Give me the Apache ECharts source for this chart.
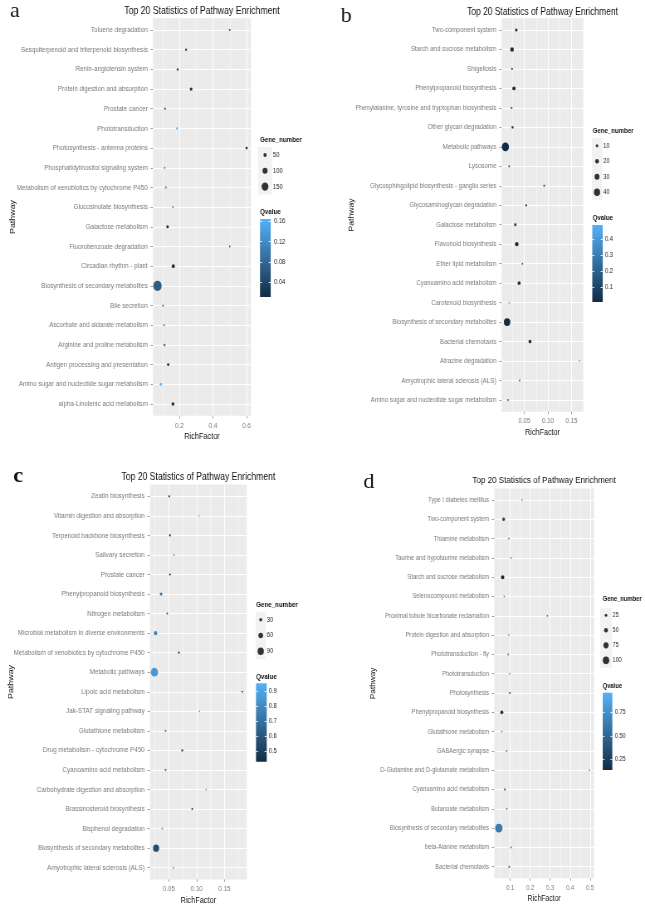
<!DOCTYPE html>
<html><head><meta charset="utf-8">
<script src="https://cdn.jsdelivr.net/npm/echarts@6.0.0/dist/echarts.min.js"></script>
<style>
html,body{margin:0;padding:0;background:#fff;overflow:hidden;width:645px;height:907px;}
#chart{width:777px;height:907px;transform:scaleX(0.8301158);transform-origin:0 0;}
</style></head><body><div id="chart"></div>
<script>
// ---------- Panel a ----------
const pathwaysA = ["Toluene degradation","Sesquiterpenoid and triterpenoid biosynthesis","Renin-angiotensin system","Protein digestion and absorption","Prostate cancer","Phototransduction","Photosynthesis - antenna proteins","Phosphatidylinositol signaling system","Metabolism of xenobiotics by cytochrome P450","Glucosinolate biosynthesis","Galactose metabolism","Fluorobenzoate degradation","Circadian rhythm - plant","Biosynthesis of secondary metabolites","Bile secretion","Ascorbate and aldarate metabolism","Arginine and proline metabolism","Antigen processing and presentation","Amino sugar and nucleotide sugar metabolism","alpha-Linolenic acid metabolism"];
const richA  = [0.50,0.24,0.19,0.27,0.115,0.186,0.60,0.112,0.12,0.162,0.13,0.50,0.164,0.07,0.103,0.109,0.112,0.134,0.09,0.162];
const genesA = [8,15,15,35,18,10,22,14,16,10,30,5,45,190,15,14,20,28,22,40];
const qvalA  = [0.05,0.04,0.04,0.01,0.12,0.16,0.02,0.14,0.15,0.15,0.02,0.08,0.01,0.068,0.14,0.15,0.10,0.02,0.165,0.01];
const xTicksA = [0.2,0.4,0.6];
const xMinorA = [0.1,0.3,0.5];
const sizeBreaksA = [50,100,150];
const qBreaksA = [0.04,0.08,0.12,0.16];

// ---------- Panel b ----------
const pathwaysB = ["Two-component system","Starch and sucrose metabolism","Shigellosis","Phenylpropanoid biosynthesis","Phenylalanine, tyrosine and tryptophan biosynthesis","Other glycan degradation","Metabolic pathways","Lysosome","Glycosphingolipid biosynthesis - ganglio series","Glycosaminoglycan degradation","Galactose metabolism","Flavonoid biosynthesis","Ether lipid metabolism","Cyanoamino acid metabolism","Carotenoid biosynthesis","Biosynthesis of secondary metabolites","Bacterial chemotaxis","Atrazine degradation","Amyotrophic lateral sclerosis (ALS)","Amino sugar and nucleotide sugar metabolism"];
const richB  = [0.033,0.024,0.024,0.028,0.023,0.025,0.010,0.018,0.092,0.054,0.031,0.034,0.046,0.039,0.018,0.0135,0.062,0.167,0.040,0.0156];
const genesB = [11,19,5,16,5,7,48,5,4,5,9,18,3,14,3,42,14,1,4,5];
const qvalB  = [0.05,0.01,0.15,0.02,0.2,0.1,0.01,0.25,0.08,0.06,0.05,0.02,0.2,0.04,0.49,0.012,0.03,0.35,0.3,0.3];
const xTicksB = [0.05,0.10,0.15];
const xMinorB = [0.025,0.075,0.125];
const sizeBreaksB = [10,20,30,40];
const qBreaksB = [0.1,0.2,0.3,0.4];

// ---------- Panel c ----------
const pathwaysC = ["Zeatin biosynthesis","Vitamin digestion and absorption","Terpenoid backbone biosynthesis","Salivary secretion","Prostate cancer","Phenylpropanoid biosynthesis","Nitrogen metabolism","Microbial metabolism in diverse environments","Metabolism of xenobiotics by cytochrome P450","Metabolic pathways","Lipoic acid metabolism","Jak-STAT signaling pathway","Glutathione metabolism","Drug metabolism - cytochrome P450","Cyanoamino acid metabolism","Carbohydrate digestion and absorption","Brassinosteroid biosynthesis","Bisphenol degradation","Biosynthesis of secondary metabolites","Amyotrophic lateral sclerosis (ALS)"];
const richC  = [0.0506,0.104,0.052,0.059,0.052,0.036,0.047,0.026,0.068,0.024,0.182,0.105,0.044,0.074,0.044,0.117,0.092,0.038,0.027,0.058];
const genesC = [8,4,8,5,8,22,7,40,8,110,4,4,10,8,10,4,5,6,88,6];
const qvalC  = [0.45,0.95,0.46,0.9,0.47,0.7,0.6,0.79,0.5,0.85,0.5,0.9,0.75,0.43,0.75,0.92,0.46,0.85,0.56,0.9];
const xTicksC = [0.05,0.10,0.15];
const xMinorC = [0.025,0.075,0.125,0.175];
const sizeBreaksC = [30,60,90];
const qBreaksC = [0.5,0.6,0.7,0.8,0.9];

// ---------- Panel d ----------
const pathwaysD = ["Type I diabetes mellitus","Two-component system","Thiamine metabolism","Taurine and hypotaurine metabolism","Starch and sucrose metabolism","Selenocompound metabolism","Proximal tubule bicarbonate reclamation","Protein digestion and absorption","Phototransduction - fly","Phototransduction","Photosynthesis","Phenylpropanoid biosynthesis","Glutathione metabolism","GABAergic synapse","D-Glutamine and D-glutamate metabolism","Cyanoamino acid metabolism","Butanoate metabolism","Biosynthesis of secondary metabolites","beta-Alanine metabolism","Bacterial chemotaxis"];
const richD  = [0.159,0.067,0.093,0.104,0.062,0.070,0.286,0.093,0.090,0.097,0.098,0.058,0.058,0.082,0.497,0.073,0.083,0.043,0.104,0.095];
const genesD = [3,30,6,4,40,4,3,5,6,5,8,35,8,5,2,10,6,120,6,8];
const qvalD  = [0.7,0.3,0.6,0.8,0.135,0.8,0.5,0.85,0.6,0.9,0.4,0.2,0.964,0.6,0.5,0.35,0.6,0.63,0.6,0.4];
const xTicksD = [0.1,0.2,0.3,0.4,0.5];
const xMinorD = [0.05,0.15,0.25,0.35,0.45];
const sizeBreaksD = [25,50,75,100];
const qBreaksD = [0.25,0.50,0.75];

const TITLE = 'Top 20 Statistics of Pathway Enrichment';

// ---------- layout (real pixel positions in the 645 px wide picture) ----------
const S = 645/777;
const X = r => r / S;
const FONT = '"Liberation Sans", Arial, sans-serif';
const SERIF = '"Liberation Serif", "Times New Roman", serif';

const panels = [
 {names:pathwaysA, rich:richA, genes:genesA, q:qvalA, ticks:xTicksA, minor:xMinorA, tickDec:1, sizeBreaks:sizeBreaksA, qBreaks:qBreaksA, qDec:2,
  sp:[1.7,0.044], gx:153, gw:98, gt:18.2, gh:397.6, titleY:11, ts:10.5, fs:1.0, letter:'a', lb:false, lx:10, ly:11.7, yNameGap:164.2,
  legX:260, legTitleY:140, keyY0:155, keyStep:15.8, dotX:265, labX:273, qTitleY:212.3, barX:260, barW:10.7, barT:219, barB:297, barLabX:274},
 {names:pathwaysB, rich:richB, genes:genesB, q:qvalB, ticks:xTicksB, minor:xMinorB, tickDec:2, sizeBreaks:sizeBreaksB, qBreaks:qBreaksB, qDec:1,
  sp:[1.5,0.15], gx:501.7, gw:81.6, gt:18.3, gh:393.4, titleY:11.7, ts:10.2, fs:0.975, letter:'b', lb:false, lx:340.7, ly:16.7, yNameGap:176.3,
  legX:592.7, legTitleY:131.3, keyY0:145.7, keyStep:15.53, dotX:597, labX:603.3, qTitleY:218.3, barX:592.3, barW:10.4, barT:225, barB:302, barLabX:605},
 {names:pathwaysC, rich:richC, genes:genesC, q:qvalC, ticks:xTicksC, minor:xMinorC, tickDec:2, sizeBreaks:sizeBreaksC, qBreaks:qBreaksC, qDec:1,
  sp:[1.6,0.065], gx:150, gw:96.7, gt:484.6, gh:394.8, titleY:476.7, ts:10.4, fs:1.0, letter:'c', lb:true, lx:13.3, ly:476.1, yNameGap:162.2,
  legX:256, legTitleY:605.3, keyY0:619.7, keyStep:15.8, dotX:260.7, labX:266.7, qTitleY:676.7, barX:256, barW:10.7, barT:683.3, barB:761.7, barLabX:268.7},
 {names:pathwaysD, rich:richD, genes:genesD, q:qvalD, ticks:xTicksD, minor:xMinorD, tickDec:1, sizeBreaks:sizeBreaksD, qBreaks:qBreaksD, qDec:2,
  sp:[1.5,0.062], gx:494.3, gw:99.7, gt:488.4, gh:389.9, titleY:480.7, ts:9.7, fs:0.93, letter:'d', lb:false, lx:363.3, ly:482.7, yNameGap:141.7,
  legX:602.7, legTitleY:598.7, keyY0:615.3, keyStep:15, dotX:606, labX:612.7, qTitleY:686, barX:602.7, barW:9.6, barT:692.7, barB:770, barLabX:615}
];

const grid=[], xAxis=[], yAxis=[], series=[], visualMap=[], graphic=[];
const addG = o => (grid.push(o), grid.length-1);
const addX = o => (xAxis.push(o), xAxis.length-1);
const addY = o => (yAxis.push(o), yAxis.length-1);
const LOW = '#132B43', HIGH = '#56B1F7';
const NOLINE = {show:false, onZero:false};

panels.forEach((P,k) => {
  const fs = P.fs;
  const lo = Math.min(...P.rich), hi = Math.max(...P.rich), span = hi-lo;
  const xmin = lo-0.05*span, xmax = hi+0.05*span;
  const qmin = Math.min(...P.q), qmax = Math.max(...P.q);
  const sz = v => P.sp[0] + P.sp[1]*v;
  const idx = P.names.map((_,i)=>i);

  const g = addG({left:X(P.gx), top:P.gt, width:X(P.gw), height:P.gh, show:true, backgroundColor:'#EBEBEB', borderWidth:0});
  const xi = addX({gridIndex:g, type:'value', position:'bottom', min:xmin, max:xmax,
    axisLine:NOLINE,
    axisTick:{show:true, length:2.5, lineStyle:{color:'#8a8a8a', width:0.8}, customValues:P.ticks},
    axisLabel:{customValues:P.ticks, formatter:v=>v.toFixed(P.tickDec), fontSize:7.55*fs, color:'#7a7a7a', margin:6, fontFamily:FONT},
    splitLine:{show:true, lineStyle:{color:'#ffffff', width:1}},
    name:'RichFactor', nameLocation:'middle', nameGap:16.5, nameMoveOverlap:false,
    nameTextStyle:{fontSize:8.9*fs, color:'#111', fontFamily:FONT}});
  addX({gridIndex:g, type:'value', position:'top', min:xmin, max:xmax,
    axisLine:NOLINE, axisLabel:{show:false},
    axisTick:{show:false, customValues:P.minor},
    splitLine:{show:true, lineStyle:{color:'#ffffff', width:0.5}}});
  const yi = addY({gridIndex:g, type:'value', min:-0.6, max:19.6, inverse:true,
    axisLine:NOLINE,
    axisTick:{show:true, length:3, lineStyle:{color:'#8a8a8a', width:0.8}, customValues:idx},
    axisLabel:{customValues:idx, formatter:v=>P.names[Math.round(v)]||'', fontSize:7.55*fs, color:'#7a7a7a', margin:6.4, fontFamily:FONT},
    splitLine:{show:true, lineStyle:{color:'#ffffff', width:1}},
    name:'Pathway', nameLocation:'middle', nameGap:P.yNameGap, nameMoveOverlap:false,
    nameTextStyle:{fontSize:8.9*fs, color:'#111', fontFamily:FONT}});
  series.push({type:'scatter', xAxisIndex:xi, yAxisIndex:yi, z:3,
    data:P.names.map((n,i)=>[P.rich[i], i, P.q[i], P.genes[i], n]),
    symbol:'circle', symbolSize:v=>sz(v[3]), itemStyle:{opacity:1}});
  visualMap.push({type:'continuous', show:false, seriesIndex:series.length-1, dimension:2, min:qmin, max:qmax, inRange:{color:[LOW,HIGH]}});

  // size legend
  const kw = 2*(P.labX-P.dotX)-2;
  const n = P.sizeBreaks.length;
  const lg = addG({left:X(P.dotX-kw/2), width:X(kw), top:P.keyY0-P.keyStep/2, height:n*P.keyStep, show:true, backgroundColor:'#F2F2F2', borderWidth:0});
  const lxi = addX({gridIndex:lg, type:'value', min:-1, max:1, show:false, axisLine:NOLINE});
  const lyi = addY({gridIndex:lg, type:'category', data:P.sizeBreaks.map(String), inverse:true, position:'right',
    axisLine:NOLINE, axisTick:{show:false}, splitLine:{show:false},
    axisLabel:{fontSize:7*fs, color:'#222', margin:X(P.labX-(P.dotX+kw/2)), fontFamily:FONT}});
  series.push({type:'scatter', xAxisIndex:lxi, yAxisIndex:lyi, silent:true, z:3,
    data:P.sizeBreaks.map((b,i)=>[0,i,b]), symbol:'circle', symbolSize:v=>sz(v[2]), itemStyle:{color:'#000'}});

  // colour bar
  const cg = addG({left:X(P.barX), width:X(P.barW), top:P.barT, height:P.barB-P.barT, show:true, borderWidth:0,
    backgroundColor:{type:'linear', x:0, y:0, x2:0, y2:1, colorStops:[{offset:0, color:HIGH},{offset:1, color:LOW}]}});
  addX({gridIndex:cg, type:'value', min:0, max:1, show:false, axisLine:NOLINE});
  addY({gridIndex:cg, type:'value', min:qmin, max:qmax, position:'right',
    axisLine:NOLINE, splitLine:{show:false},
    axisTick:{show:true, inside:true, length:X(P.barW)/5, lineStyle:{color:'#ffffff', width:0.8}, customValues:P.qBreaks},
    axisLabel:{customValues:P.qBreaks, formatter:v=>v.toFixed(P.qDec), fontSize:7*fs, color:'#222', margin:X(P.barLabX-P.barX-P.barW), fontFamily:FONT}});
  addY({gridIndex:cg, type:'value', min:qmin, max:qmax, position:'left',
    axisLine:NOLINE, splitLine:{show:false}, axisLabel:{show:false},
    axisTick:{show:true, inside:true, length:X(P.barW)/5, lineStyle:{color:'#ffffff', width:0.8}, customValues:P.qBreaks}});

  // texts
  const txt = (x, y, text, font, align, extra) => Object.assign({type:'text', x:x, y:y, z:10, silent:true,
    style:{text:text, font:font, fill:'#111', textAlign:align, align:align, textVerticalAlign:'middle', verticalAlign:'middle'}}, extra||{});
  graphic.push(txt(X(P.gx+P.gw/2), P.titleY, TITLE, `${P.ts}px ${FONT}`, 'center'));
  graphic.push(txt(X(P.legX), P.legTitleY, 'Gene_number', `bold ${7.5*fs}px ${FONT}`, 'left'));
  graphic.push(txt(X(P.legX), P.qTitleY, 'Qvalue', `bold ${7.5*fs}px ${FONT}`, 'left'));
  graphic.push(txt(X(P.lx), P.ly, P.letter, `${P.lb?'bold ':''}22px ${SERIF}`, 'left', {scaleX:1/S}));
});

const chart = echarts.init(document.getElementById('chart'), null, {renderer:'canvas'});
chart.setOption({
  animation:false,
  backgroundColor:'#ffffff',
  textStyle:{fontFamily:FONT},
  grid, xAxis, yAxis, series, visualMap, graphic
});
</script></body></html>
